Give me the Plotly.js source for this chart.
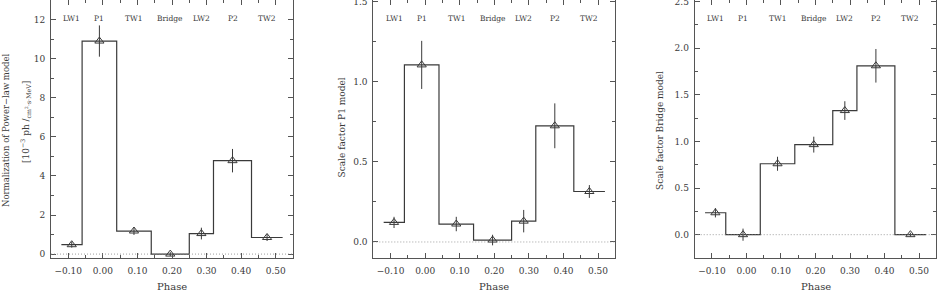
<!DOCTYPE html>
<html>
<head>
<meta charset="utf-8">
<script src="https://cdn.plot.ly/plotly-3.0.1.min.js"></script>
<style>html,body{margin:0;padding:0;background:#fff;}#chart{width:937px;height:292px;}</style>
</head>
<body>
<div id="chart"></div>
<script>
// ---- data ----
const binNames = ["LW1", "P1", "TW1", "Bridge", "LW2", "P2", "TW2"];
const phaseEdges = [-0.12, -0.06, 0.04, 0.14, 0.25, 0.32, 0.43, 0.52];
const phaseCenters = [-0.09, -0.01, 0.09, 0.195, 0.285, 0.375, 0.475];

const powerLawNorm = [0.48, 10.9, 1.18, 0.0, 1.05, 4.78, 0.85];
const powerLawErr  = [0.15, 0.8, 0.2, 0.1, 0.3, 0.6, 0.18];

const p1Scale = [0.122, 1.105, 0.112, 0.012, 0.130, 0.725, 0.315];
const p1Err   = [0.035, 0.15, 0.045, 0.033, 0.07, 0.14, 0.04];

const bridgeScale = [0.235, 0.0, 0.76, 0.965, 1.33, 1.81, 0.0];
const bridgeErr   = [0.05, 0.065, 0.075, 0.085, 0.1, 0.18, 0.02];

const xTickVals = [-0.10, 0.00, 0.10, 0.20, 0.30, 0.40, 0.50];
const xTickText = ["\u22120.10", "0.00", "0.10", "0.20", "0.30", "0.40", "0.50"];

// ---- styling ----
const INK = "#3a3a3a";
const FONT = "DejaVu Serif";
const W = 937, PLOT_H = 258;

const panels = [
  {vals: powerLawNorm, errs: powerLawErr, yr: [-0.2, 13], dt: 2, mdt: 1, fmt: "d",
   dom: [51, 293]},
  {vals: p1Scale, errs: p1Err, yr: [-0.1, 1.51], dt: 0.5, mdt: 0.25, fmt: ".1f",
   dom: [373.3, 615.3]},
  {vals: bridgeScale, errs: bridgeErr, yr: [-0.25, 2.515], dt: 0.5, mdt: 0.25, fmt: ".1f",
   dom: [694.7, 936.3]}
];

const traces = [];
const layout = {
  width: W, height: 292,
  margin: {l: 0, r: 0, t: 0, b: 34, pad: 0},
  paper_bgcolor: "#fff", plot_bgcolor: "#fff",
  showlegend: false,
  font: {family: FONT, size: 9, color: INK},
  annotations: [], shapes: []
};

panels.forEach((p, i) => {
  const n = i === 0 ? "" : String(i + 1);
  const xa = "x" + n, ya = "y" + n;
  // step histogram
  traces.push({
    type: "scatter", mode: "lines", xaxis: xa, yaxis: ya,
    x: phaseEdges, y: p.vals.concat([p.vals[p.vals.length - 1]]),
    line: {shape: "hv", color: INK, width: 1.2},
    hoverinfo: "skip"
  });
  // points with error bars
  traces.push({
    type: "scatter", mode: "markers", xaxis: xa, yaxis: ya,
    x: phaseCenters, y: p.vals,
    marker: {symbol: "triangle-up-open", size: 8, color: INK, line: {width: 1, color: INK}},
    error_y: {type: "data", array: p.errs, visible: true, width: 0, thickness: 1, color: INK}
  });
  const axCommon = {
    showline: true, linecolor: "#555", linewidth: 1, mirror: "allticks",
    ticks: "inside", ticklen: 5, tickcolor: "#555", tickwidth: 1,
    showgrid: false, zeroline: false, ticklabeloverflow: "allow",
    tickfont: {family: FONT, size: 9, color: INK}
  };
  layout["xaxis" + n] = Object.assign({}, axCommon, {
    domain: [p.dom[0] / W, p.dom[1] / W], anchor: ya,
    range: [-0.15, 0.55], tickmode: "array", tickvals: xTickVals, ticktext: xTickText,
    ticklabelstandoff: 4,
    minor: {dtick: 0.05, ticklen: 3, ticks: "inside", tickcolor: "#555", showgrid: false}
  });
  layout["yaxis" + n] = Object.assign({}, axCommon, {
    domain: [0, 1], anchor: xa,
    range: p.yr, dtick: p.dt, tick0: 0, tickformat: p.fmt,
    ticklabelstandoff: 3,
    minor: {dtick: p.mdt, ticklen: 3, ticks: "inside", tickcolor: "#555", showgrid: false}
  });
  // dotted zero reference line
  layout.shapes.push({
    type: "line", xref: xa + " domain", yref: ya, x0: 0, x1: 1, y0: 0, y1: 0,
    line: {color: "#888", width: 0.8, dash: "1px,2px"}
  });
  // bin labels along the top
  binNames.forEach((name, k) => {
    layout.annotations.push({
      xref: xa, yref: "paper", x: phaseCenters[k], y: (PLOT_H - 18.3) / PLOT_H,
      text: name, showarrow: false, xanchor: "center", yanchor: "middle",
      font: {family: FONT, size: 7.5, color: INK}
    });
  });
  // x title
  layout.annotations.push({
    xref: "paper", yref: "paper", x: (p.dom[0] + p.dom[1]) / 2 / W, y: (PLOT_H - 286) / PLOT_H,
    text: "Phase", showarrow: false, xanchor: "center", yanchor: "middle",
    font: {family: FONT, size: 10, color: INK}
  });
});

// y titles
const yTitles = [
  {text: "Normalization of Power\u2212law model", x: 6, y: 130, size: 8.5},
  {text: "[10<sup>\u22123</sup> ph /<sub>cm<sup>2</sup>\u00b7s\u00b7MeV</sub>]", x: 26, y: 122, size: 9},
  {text: "Scale factor P1 model", x: 341.5, y: 128, size: 9},
  {text: "Scale factor Bridge model", x: 660, y: 131, size: 9}
];
yTitles.forEach(t => {
  layout.annotations.push({
    xref: "paper", yref: "paper", x: t.x / W, y: (PLOT_H - t.y) / PLOT_H,
    text: t.text, showarrow: false, textangle: -90, xanchor: "center", yanchor: "middle",
    font: {family: FONT, size: t.size, color: INK}
  });
});

Plotly.newPlot("chart", traces, layout, {staticPlot: true, displayModeBar: false});
</script>
</body>
</html>
